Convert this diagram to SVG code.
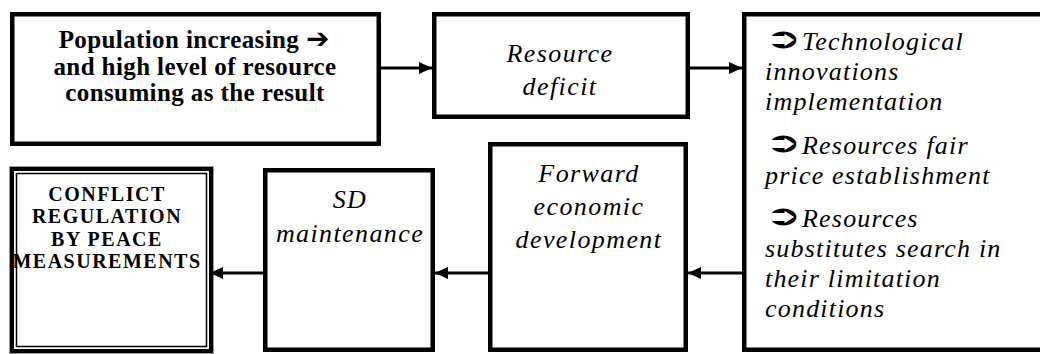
<svg xmlns="http://www.w3.org/2000/svg" width="1040" height="354" viewBox="0 0 1040 354">
<style>
.box{fill:#fff;stroke:#000;stroke-width:4.5}
.b{font-family:"Liberation Serif","Times New Roman",serif;font-weight:bold;font-size:25px;fill:#000;text-anchor:middle;letter-spacing:0.4px}
.cb{font-family:"Liberation Serif","Times New Roman",serif;font-weight:bold;font-size:20px;fill:#000;text-anchor:middle;letter-spacing:1.5px}
.i{font-family:"Liberation Serif","Times New Roman",serif;font-style:italic;font-size:26px;fill:#000;text-anchor:middle;letter-spacing:1.4px}
.il{font-family:"Liberation Serif","Times New Roman",serif;font-style:italic;font-size:26px;fill:#000;letter-spacing:1.2px}
.sym{font-family:"DejaVu Sans",sans-serif;font-style:normal;font-weight:bold;letter-spacing:0;fill:#000}
.conn{stroke:#000;stroke-width:3;fill:none}
</style>
<defs>
<marker id="ah" markerUnits="userSpaceOnUse" markerWidth="14" markerHeight="12" refX="13" refY="6" orient="auto">
<path d="M0,0 L13,6 L0,12 Z" fill="#000"/>
</marker>
</defs>
<g id="n1">
<rect class="box" x="12.25" y="14.25" width="366.5" height="129.5"/>
<text class="b" x="194" y="48">Population increasing <tspan class="sym" font-size="28">➔</tspan></text>
<text class="b" x="195" y="75">and high level of resource</text>
<text class="b" x="195" y="101">consuming as the result</text>
</g>
<g id="n2">
<rect class="box" x="434.25" y="14.25" width="253.5" height="102.5"/>
<text class="i" x="560" y="62">Resource</text>
<text class="i" x="560" y="95">deficit</text>
</g>
<g id="n3">
<rect class="box" x="744.25" y="14.25" width="310" height="335.5"/>
<text class="sym" font-size="28" transform="translate(765,48) scale(1.55,1)">➲</text>
<text class="il" x="802" y="50">Technological</text>
<text class="il" x="765" y="80">innovations</text>
<text class="il" x="765" y="110">implementation</text>
<text class="sym" font-size="28" transform="translate(765,152) scale(1.55,1)">➲</text>
<text class="il" x="802" y="154">Resources fair</text>
<text class="il" x="765" y="184">price establishment</text>
<text class="sym" font-size="28" transform="translate(765,225) scale(1.55,1)">➲</text>
<text class="il" x="802" y="227">Resources</text>
<text class="il" x="765" y="257">substitutes search in</text>
<text class="il" x="765" y="287">their limitation</text>
<text class="il" x="765" y="317">conditions</text>
</g>
<g id="n4">
<rect class="box" x="490.25" y="144.25" width="195.5" height="205.5"/>
<text class="i" x="589" y="182">Forward</text>
<text class="i" x="589" y="215">economic</text>
<text class="i" x="589" y="248">development</text>
</g>
<g id="n5">
<rect class="box" x="265.25" y="170.25" width="167.5" height="179.5"/>
<text class="i" x="350" y="208">SD</text>
<text class="i" x="350" y="242">maintenance</text>
</g>
<g id="n6">
<rect x="9.5" y="166.5" width="204" height="187" fill="#fff" stroke="#999" stroke-width="1"/>
<rect x="12" y="169" width="199" height="182" fill="none" stroke="#000" stroke-width="4"/>
<rect x="16.5" y="173.5" width="190" height="173" fill="none" stroke="#000" stroke-width="1.5"/>
<text class="cb" x="107" y="201">CONFLICT</text>
<text class="cb" x="107" y="223.4">REGULATION</text>
<text class="cb" x="107" y="245.8">BY PEACE</text>
<text class="cb" x="107" y="268.2">MEASUREMENTS</text>
</g>
<g id="connectors">
<line class="conn" x1="381" y1="68" x2="432" y2="68" marker-end="url(#ah)"/>
<line class="conn" x1="690" y1="68" x2="742" y2="68" marker-end="url(#ah)"/>
<line class="conn" x1="742" y1="273" x2="688" y2="273" marker-end="url(#ah)"/>
<line class="conn" x1="488" y1="273" x2="435" y2="273" marker-end="url(#ah)"/>
<line class="conn" x1="263" y1="273" x2="210" y2="273" marker-end="url(#ah)"/>
</g>
</svg>
